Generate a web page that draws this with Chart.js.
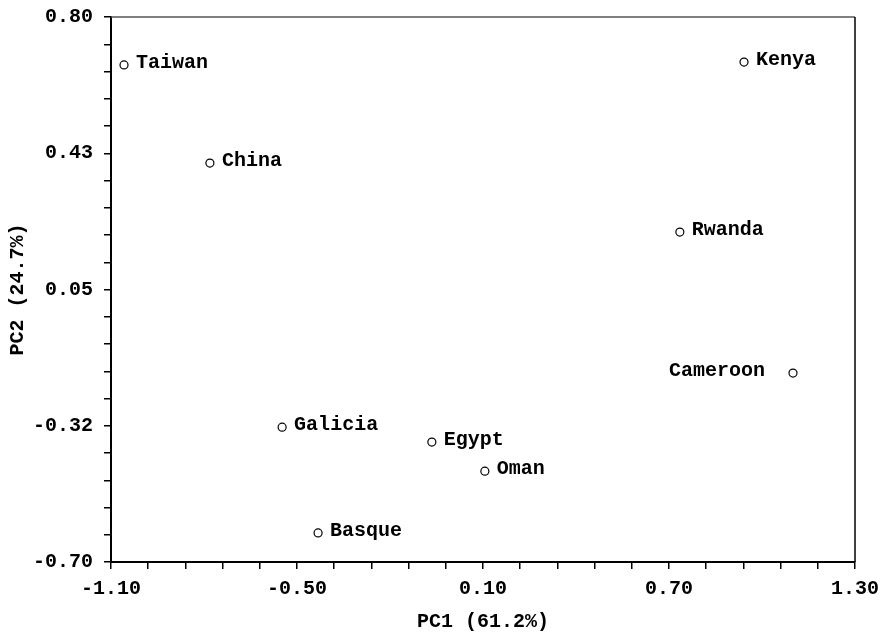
<!DOCTYPE html>
<html>
<head>
<meta charset="utf-8">
<script src="https://cdn.jsdelivr.net/npm/chart.js@4/dist/chart.umd.min.js"></script>
<style>
  html, body { margin: 0; padding: 0; background: #fff; }
  #wrap { width: 890px; height: 633px; }
</style>
</head>
<body>
<div id="wrap"><canvas id="pca"></canvas></div>
<script>
const populations = ['Taiwan', 'China', 'Kenya', 'Rwanda', 'Cameroon', 'Galicia', 'Egypt', 'Oman', 'Basque'];
const pc1 = [-1.058, -0.781, 0.942, 0.735, 1.100, -0.548, -0.065, 0.106, -0.432];
const pc2 = [0.668, 0.398, 0.676, 0.208, -0.180, -0.329, -0.370, -0.450, -0.620];
const labelLeft = ['Cameroon'];

const xTickStep = 0.12;
const yTickStep = 0.075;

const FONT = '"Liberation Mono", "Courier New", monospace';

const points = populations.map((name, i) => ({ x: pc1[i], y: pc2[i], name: name }));

const pointLabels = {
    id: 'pointLabels',
    afterDatasetsDraw(chart) {
        const ctx = chart.ctx;
        const meta = chart.getDatasetMeta(0);
        ctx.save();
        ctx.font = 'bold 20px ' + FONT;
        ctx.fillStyle = '#000';
        ctx.textBaseline = 'middle';
        meta.data.forEach((el, i) => {
            const name = populations[i];
            if (labelLeft.includes(name)) {
                ctx.textAlign = 'right';
                ctx.fillText(name, el.x - 28, el.y - 2);
            } else {
                ctx.textAlign = 'left';
                ctx.fillText(name, el.x + 12, el.y - 2);
            }
        });
        ctx.restore();
    }
};

const frame = {
    id: 'frame',
    beforeDatasetsDraw(chart) {
        const { ctx, chartArea: a } = chart;
        ctx.save();
        ctx.lineWidth = 1.5;
        ctx.strokeStyle = '#555';
        ctx.beginPath();
        ctx.moveTo(a.left, a.top);
        ctx.lineTo(a.right, a.top);
        ctx.stroke();
        ctx.strokeStyle = '#000';
        ctx.beginPath();
        ctx.moveTo(a.right, a.top);
        ctx.lineTo(a.right, a.bottom);
        ctx.stroke();
        ctx.restore();
    }
};

// label only every fifth tick, rounding halves upward (0.425 -> 0.43, -0.325 -> -0.32)
const everyFifth = (value, index) =>
    (index % 5 === 0 ? (Math.round(value * 100 + 1e-6) / 100).toFixed(2) : '');

new Chart(document.getElementById('pca'), {
    type: 'scatter',
    data: {
        datasets: [{
            data: points,
            pointRadius: 4,
            pointBorderWidth: 1.2,
            pointBorderColor: '#000',
            pointBackgroundColor: '#fff',
        }]
    },
    options: {
        responsive: true,
        maintainAspectRatio: false,
        animation: false,
        layout: { padding: { left: 0, right: 35, top: 17, bottom: 0 } },
        plugins: {
            legend: { display: false },
            tooltip: { enabled: false },
        },
        scales: {
            x: {
                min: -1.10,
                max: 1.30,
                afterFit: (scale) => {
                    scale.height = 71;
                    scale.paddingLeft = 0;
                    scale.paddingRight = 0;
                },
                border: { color: '#000', width: 2 },
                grid: { drawOnChartArea: false, color: '#000', tickLength: 7, lineWidth: 1.5 },
                ticks: {
                    stepSize: xTickStep,
                    autoSkip: false,
                    maxRotation: 0,
                    color: '#000',
                    padding: 8,
                    font: { family: FONT, size: 20, weight: 'bold' },
                    callback: everyFifth,
                },
                title: {
                    display: true,
                    text: 'PC1 (61.2%)',
                    color: '#000',
                    padding: { top: 0, bottom: 1 },
                    font: { family: FONT, size: 20, weight: 'bold', lineHeight: 1 },
                },
            },
            y: {
                min: -0.70,
                max: 0.80,
                afterFit: (scale) => {
                    scale.width = 111;
                    scale.paddingTop = 0;
                    scale.paddingBottom = 0;
                },
                border: { color: '#000', width: 2 },
                grid: { drawOnChartArea: false, color: '#000', tickLength: 7, lineWidth: 1.5 },
                ticks: {
                    stepSize: yTickStep,
                    autoSkip: false,
                    color: '#000',
                    padding: 11,
                    font: { family: FONT, size: 20, weight: 'bold' },
                    callback: everyFifth,
                },
                title: {
                    display: true,
                    text: 'PC2 (24.7%)',
                    color: '#000',
                    padding: { top: 8, bottom: 0 },
                    font: { family: FONT, size: 20, weight: 'bold', lineHeight: 1 },
                },
            },
        },
    },
    plugins: [frame, pointLabels],
});
</script>
</body>
</html>
